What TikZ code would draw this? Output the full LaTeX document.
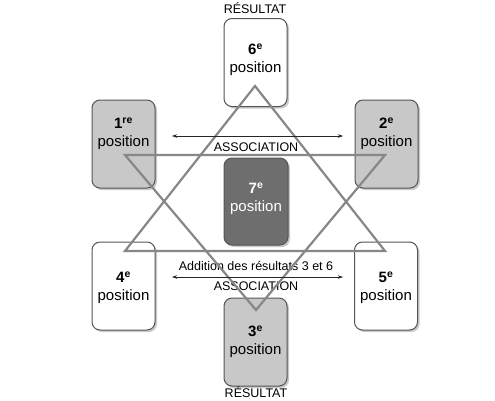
\documentclass[tikz,border=0pt]{standalone}
\usepackage{fontspec}
\setmainfont{Liberation Sans}
\usetikzlibrary{shadows,arrows.meta}
\definecolor{cardline}{RGB}{85,85,85}
\definecolor{lightcard}{RGB}{200,200,200}
\definecolor{darkcard}{RGB}{110,110,110}
\definecolor{trigray}{RGB}{135,135,135}
\begin{document}
\begin{tikzpicture}[x=1pt,y=-1pt,
  card/.style={draw=cardline, line width=1pt, rounded corners=8pt,
    minimum width=63pt, minimum height=88pt, inner sep=0pt,
    drop shadow={shadow xshift=2pt, shadow yshift=-2pt, opacity=0.35, fill=black!60}},
  cardtext/.style={align=center, font=\fontsize{15}{18}\selectfont, inner sep=0pt},
  lbl/.style={font=\fontsize{12.5}{15}\selectfont, inner sep=0pt},
  tri/.style={draw=trigray, line width=2.2pt, line join=miter},
  assoc/.style={{Stealth[length=5pt,width=3.5pt]}-{Stealth[length=5pt,width=3.5pt]}, line width=0.7pt, black!85}
]
\useasboundingbox (0,0) rectangle (495,400);
\fill[white] (0,0) rectangle (495,400);

% cards
\node[card, fill=white] (c6) at (255.5,62.5) {};
\node[card, fill=lightcard] (c1) at (123.5,144) {};
\node[card, fill=lightcard] (c2) at (386.5,144) {};
\node[card, fill=darkcard, minimum width=64pt, minimum height=87pt] (c7) at (256,201.5) {};
\node[card, fill=white] (c4) at (123.5,286) {};
\node[card, fill=white] (c5) at (386,286) {};
\node[card, fill=lightcard] (c3) at (255.5,342) {};

% card texts
\node[cardtext] (t6) at (255.5,60) {\textbf{6\textsuperscript{e}}\\position};
\node[cardtext] (t1) at (123.5,134) {\textbf{1\textsuperscript{re}}\\position};
\node[cardtext] (t2) at (386.5,134) {\textbf{2\textsuperscript{e}}\\position};
\node[cardtext, text=white] (t7) at (256,199) {\textbf{7\textsuperscript{e}}\\position};
\node[cardtext] (t4) at (123.5,288) {\textbf{4\textsuperscript{e}}\\position};
\node[cardtext] (t5) at (386,288) {\textbf{5\textsuperscript{e}}\\position};
\node[cardtext] (t3) at (255.5,341.5) {\textbf{3\textsuperscript{e}}\\position};

% labels
\node[lbl] (r6) at (255,8) {RÉSULTAT};
\node[lbl] (r3) at (256,392) {RÉSULTAT};
\node[lbl] (a1) at (256,147) {ASSOCIATION};
\node[lbl] (ad) at (256,266) {Addition des résultats 3 et 6};
\node[lbl] (a2) at (256,286) {ASSOCIATION};

% triangles
\coordinate (u1) at (255,86);
\coordinate (u2) at (125,251);
\coordinate (u3) at (385,251);
\coordinate (d1) at (125,155);
\coordinate (d2) at (385,155);
\coordinate (d3) at (256,310);
\draw[tri] (u1) -- (u2) -- (u3) -- cycle;
\draw[tri] (d1) -- (d2) -- (d3) -- cycle;

% arrows
\coordinate (al) at (172,136);
\coordinate (ar) at (343,136);
\coordinate (bl) at (172,277);
\coordinate (br) at (343,277);
\draw[assoc] (al) -- (ar);
\draw[assoc] (bl) -- (br);
\end{tikzpicture}
\end{document}
